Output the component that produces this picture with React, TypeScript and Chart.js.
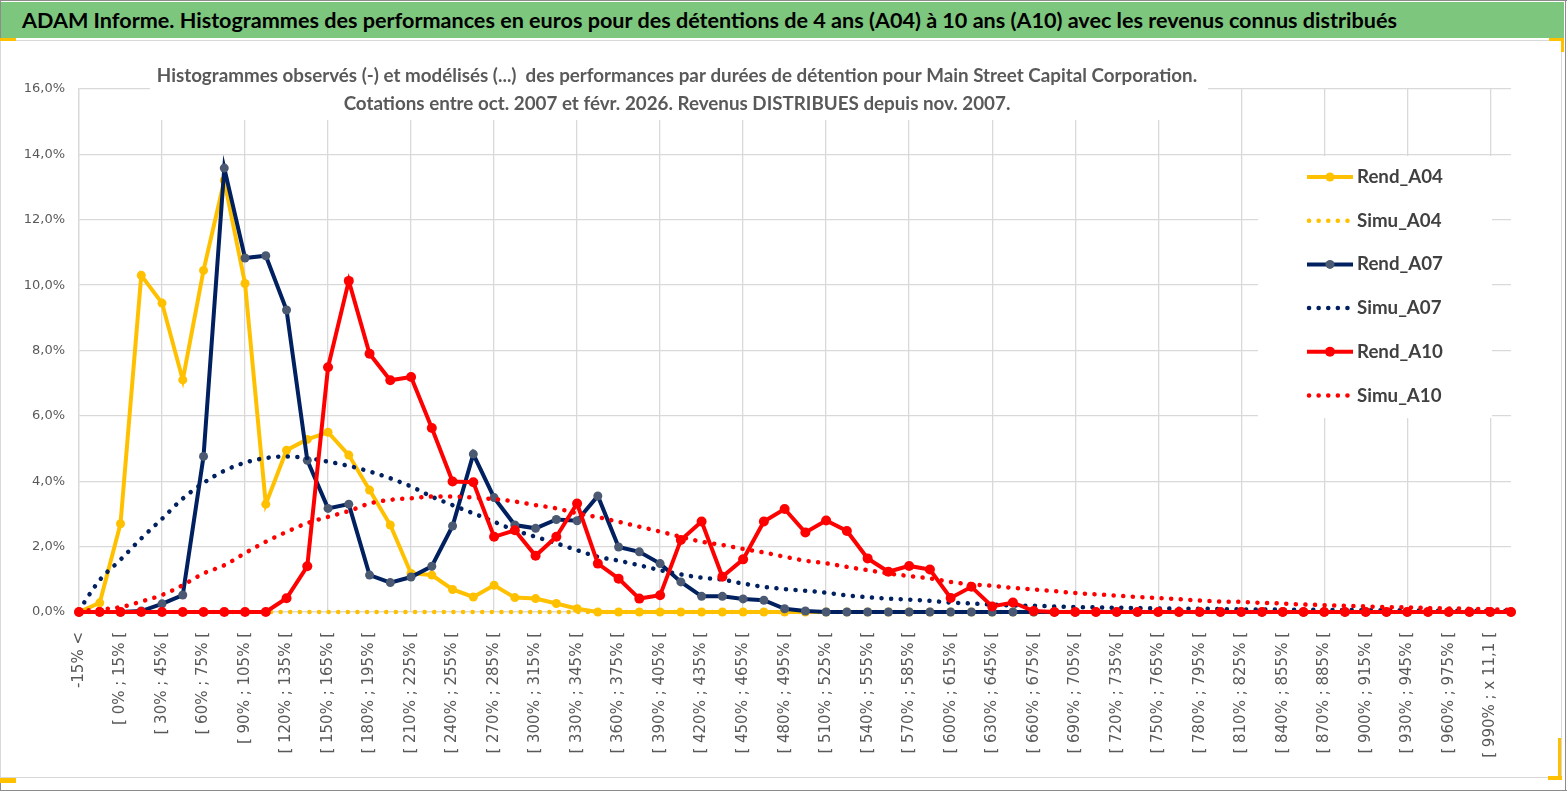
import React, { useEffect, useRef } from 'react';
import { Chart, registerables } from 'chart.js';

Chart.register(...registerables);

const HEADER = 'ADAM Informe. Histogrammes des performances en euros pour des détentions de 4 ans (A04) à 10 ans (A10) avec les revenus connus distribués';
const TITLE_LINES = [
  'Histogrammes observés (-) et modélisés (...)  des performances par durées de détention pour Main Street Capital Corporation.',
  'Cotations entre oct. 2007 et févr. 2026. Revenus DISTRIBUES depuis nov. 2007.',
];

const CATEGORIES = [
  '-15% <', '[ -15% ; 0% [', '[ 0% ; 15% [', '[ 15% ; 30% [', '[ 30% ; 45% [', '[ 45% ; 60% [',
  '[ 60% ; 75% [', '[ 75% ; 90% [', '[ 90% ; 105% [', '[ 105% ; 120% [', '[ 120% ; 135% [',
  '[ 135% ; 150% [', '[ 150% ; 165% [', '[ 165% ; 180% [', '[ 180% ; 195% [', '[ 195% ; 210% [',
  '[ 210% ; 225% [', '[ 225% ; 240% [', '[ 240% ; 255% [', '[ 255% ; 270% [', '[ 270% ; 285% [',
  '[ 285% ; 300% [', '[ 300% ; 315% [', '[ 315% ; 330% [', '[ 330% ; 345% [', '[ 345% ; 360% [',
  '[ 360% ; 375% [', '[ 375% ; 390% [', '[ 390% ; 405% [', '[ 405% ; 420% [', '[ 420% ; 435% [',
  '[ 435% ; 450% [', '[ 450% ; 465% [', '[ 465% ; 480% [', '[ 480% ; 495% [', '[ 495% ; 510% [',
  '[ 510% ; 525% [', '[ 525% ; 540% [', '[ 540% ; 555% [', '[ 555% ; 570% [', '[ 570% ; 585% [',
  '[ 585% ; 600% [', '[ 600% ; 615% [', '[ 615% ; 630% [', '[ 630% ; 645% [', '[ 645% ; 660% [',
  '[ 660% ; 675% [', '[ 675% ; 690% [', '[ 690% ; 705% [', '[ 705% ; 720% [', '[ 720% ; 735% [',
  '[ 735% ; 750% [', '[ 750% ; 765% [', '[ 765% ; 780% [', '[ 780% ; 795% [', '[ 795% ; 810% [',
  '[ 810% ; 825% [', '[ 825% ; 840% [', '[ 840% ; 855% [', '[ 855% ; 870% [', '[ 870% ; 885% [',
  '[ 885% ; 900% [', '[ 900% ; 915% [', '[ 915% ; 930% [', '[ 930% ; 945% [', '[ 945% ; 960% [',
  '[ 960% ; 975% [', '[ 975% ; 990% [', '[ 990% ; x 11,1 [', 'x 11,1 <',
];

const REND_A04 = [
  0, 0.28, 2.7, 10.3, 9.45, 7.1, 10.45, 13.2, 10.05, 3.3,
  4.95, 5.28, 5.5, 4.8, 3.73, 2.66, 1.18, 1.13, 0.69, 0.46,
  0.82, 0.44, 0.41, 0.26, 0.1, 0, 0, 0, 0, 0,
  0, 0, 0, 0, 0, 0, 0, 0, 0, 0,
  0, 0, 0, 0, 0, 0, 0, 0, 0, 0,
  0, 0, 0, 0, 0, 0, 0, 0, 0, 0,
  0, 0, 0, 0, 0, 0, 0, 0, 0, 0,
];
const SIMU_A04 = [
  0, 0, 0, 0, 0, 0, 0, 0, 0, 0,
  0, 0, 0, 0, 0, 0, 0, 0, 0, 0,
  0, 0, 0, 0, 0, 0, 0, 0, 0, 0,
  0, 0, 0, 0, 0, 0, 0, 0, 0, 0,
  0, 0, 0, 0, 0, 0, 0, 0, 0, 0,
  0, 0, 0, 0, 0, 0, 0, 0, 0, 0,
  0, 0, 0, 0, 0, 0, 0, 0, 0, 0,
];
const REND_A07 = [
  0, 0, 0, 0.03, 0.25, 0.52, 4.76, 13.58, 10.83, 10.9,
  9.24, 4.64, 3.17, 3.3, 1.13, 0.9, 1.07, 1.4, 2.63, 4.83,
  3.5, 2.66, 2.56, 2.83, 2.79, 3.55, 1.99, 1.84, 1.48, 0.92,
  0.48, 0.48, 0.4, 0.36, 0.1, 0.03, 0, 0, 0, 0,
  0, 0, 0, 0, 0, 0, 0, 0, 0, 0,
  0, 0, 0, 0, 0, 0, 0, 0, 0, 0,
  0, 0, 0, 0, 0, 0, 0, 0, 0, 0,
];
const SIMU_A07 = [
  0.05, 0.98, 1.6, 2.25, 2.85, 3.47, 3.95, 4.32, 4.57, 4.71,
  4.76, 4.71, 4.6, 4.47, 4.3, 4.09, 3.84, 3.53, 3.27, 3.02,
  2.76, 2.5, 2.3, 2.1, 1.89, 1.69, 1.57, 1.43, 1.28, 1.15,
  1.05, 0.99, 0.87, 0.77, 0.7, 0.65, 0.59, 0.51, 0.45, 0.41,
  0.38, 0.34, 0.29, 0.26, 0.23, 0.2, 0.19, 0.17, 0.15, 0.14,
  0.13, 0.12, 0.11, 0.1, 0.1, 0.09, 0.08, 0.08, 0.07, 0.07,
  0.06, 0.06, 0.05, 0.05, 0.05, 0.04, 0.04, 0.04, 0.03, 0.03,
];
const REND_A10 = [
  0, 0, 0, 0, 0, 0, 0, 0, 0, 0,
  0.42, 1.4, 7.49, 10.13, 7.9, 7.09, 7.19, 5.63, 3.99, 3.97,
  2.3, 2.5, 1.72, 2.3, 3.32, 1.48, 1.02, 0.41, 0.51, 2.2,
  2.77, 1.08, 1.61, 2.77, 3.15, 2.43, 2.8, 2.48, 1.64, 1.23,
  1.41, 1.3, 0.43, 0.77, 0.17, 0.29, 0.03, 0, 0, 0,
  0, 0, 0, 0, 0, 0, 0, 0, 0, 0,
  0, 0, 0, 0, 0, 0, 0, 0, 0, 0,
];
const SIMU_A10 = [
  0.03, 0.08, 0.15, 0.32, 0.52, 0.82, 1.18, 1.43, 1.8, 2.15,
  2.45, 2.72, 2.91, 3.09, 3.32, 3.43, 3.48, 3.53, 3.53, 3.5,
  3.45, 3.38, 3.27, 3.17, 3.02, 2.9, 2.76, 2.61, 2.46, 2.3,
  2.15, 2.05, 1.93, 1.82, 1.69, 1.57, 1.49, 1.38, 1.28, 1.18,
  1.1, 1.03, 0.92, 0.85, 0.8, 0.74, 0.69, 0.64, 0.58, 0.54,
  0.5, 0.46, 0.43, 0.39, 0.35, 0.32, 0.31, 0.28, 0.26, 0.23,
  0.21, 0.19, 0.17, 0.15, 0.14, 0.12, 0.11, 0.1, 0.08, 0.07,
];

const Y_MIN = 0;
const Y_MAX = 16;
const Y_STEP = 2;

const YELLOW = '#FFC000';
const NAVY = '#002060';
const NAVY_MARK = '#4B5A72';
const RED = '#FF0000';
const GRID = '#d9d9d9';
const TEXT = '#595959';

const DOT_DASH = [0.1, 9.5];

function solid(label: string, data: number[], color: string, mark: string, r: number, order: number) {
  return {
    label, data, order,
    borderColor: color, backgroundColor: color,
    borderWidth: 4, pointRadius: r, pointHoverRadius: r,
    pointBackgroundColor: mark, pointBorderColor: mark, pointBorderWidth: 0,
    tension: 0, clip: false as const, fill: false,
    isDotted: false,
  };
}
function dotted(label: string, data: number[], color: string, order: number) {
  return {
    label, data, order,
    borderColor: color, backgroundColor: color,
    borderWidth: 4.5, borderDash: DOT_DASH, borderCapStyle: 'round' as const,
    pointRadius: 0, pointHoverRadius: 0,
    cubicInterpolationMode: 'monotone' as const, clip: false as const, fill: false,
    isDotted: true,
  };
}

const innerDecor = {
  id: 'innerDecor',
  beforeDatasetsDraw(chart: any) {
    const { ctx, chartArea: a } = chart;
    ctx.save();
    // title box (hides grid)
    ctx.fillStyle = '#ffffff';
    ctx.fillRect(a.left + 71, a.top - 44, 1058, 75);
    ctx.fillStyle = TEXT;
    ctx.font = 'bold 18.8px Lato';
    ctx.textAlign = 'center';
    ctx.textBaseline = 'middle';
    const cx = a.left + 598;
    ctx.fillText(TITLE_LINES[0], cx, a.top - 13);
    ctx.fillText(TITLE_LINES[1], cx, a.top + 15);

    // legend box
    ctx.fillStyle = '#ffffff';
    ctx.fillRect(a.right - 253, a.top + 67, 234, 262);
    const ds = chart.data.datasets;
    const x0 = a.right - 204;
    const len = 46;
    ds.forEach((d: any, k: number) => {
      const y = a.top + 88 + k * 43.7;
      ctx.save();
      ctx.strokeStyle = d.borderColor;
      if (d.isDotted) {
        ctx.lineWidth = 4.5;
        ctx.lineCap = 'round';
        ctx.setLineDash(DOT_DASH);
        ctx.beginPath();
        ctx.moveTo(x0 + 2, y);
        ctx.lineTo(x0 + len - 2, y);
        ctx.stroke();
      } else {
        ctx.lineWidth = 4;
        ctx.lineCap = 'butt';
        ctx.beginPath();
        ctx.moveTo(x0, y);
        ctx.lineTo(x0 + len, y);
        ctx.stroke();
        ctx.fillStyle = d.pointBackgroundColor;
        ctx.beginPath();
        ctx.arc(x0 + len / 2, y, d.pointRadius, 0, Math.PI * 2);
        ctx.fill();
      }
      ctx.restore();
      ctx.fillStyle = '#404040';
      ctx.font = 'bold 18.7px Lato';
      ctx.textAlign = 'left';
      ctx.textBaseline = 'middle';
      ctx.fillText(d.label, x0 + len + 4, y);
    });
    ctx.restore();
  },
};

export default function App() {
  const canvasRef = useRef<HTMLCanvasElement | null>(null);

  useEffect(() => {
    document.body.style.margin = '0';
    const canvas = canvasRef.current;
    if (!canvas) return;
    const chart = new Chart(canvas, {
      type: 'line',
      data: {
        labels: CATEGORIES,
        datasets: [
          solid('Rend_A04', REND_A04, YELLOW, YELLOW, 4.5, 6),
          dotted('Simu_A04', SIMU_A04, YELLOW, 5),
          solid('Rend_A07', REND_A07, NAVY, NAVY_MARK, 4.5, 4),
          dotted('Simu_A07', SIMU_A07, NAVY, 3),
          solid('Rend_A10', REND_A10, RED, RED, 5, 2),
          dotted('Simu_A10', SIMU_A10, RED, 1),
        ] as any,
      },
      options: {
        animation: false,
        responsive: true,
        maintainAspectRatio: false,
        layout: { padding: { left: 10, right: 49, top: 47, bottom: 0 } },
        plugins: {
          legend: { display: false },
          title: { display: false },
          tooltip: { enabled: false },
        },
        scales: {
          x: {
            type: 'category',
            offset: false,
            grid: {
              color: (c: any) => (c.index % 4 === 0 ? GRID : 'rgba(0,0,0,0)'),
              lineWidth: 1.3,
              drawTicks: false,
            },
            border: { color: GRID, width: 1.3 },
            ticks: {
              autoSkip: false,
              maxRotation: 90,
              minRotation: 90,
              padding: 20,
              color: TEXT,
              font: { family: 'DejaVu Sans', size: 15 },
              callback: function (this: any, value: any, index: number) {
                return index % 2 === 0 ? this.getLabelForValue(value) : '';
              },
            },
            afterFit: (s: any) => { s.height = 164; },
          },
          y: {
            min: Y_MIN,
            max: Y_MAX,
            grid: { color: GRID, lineWidth: 1.3, drawTicks: false },
            border: { color: GRID, width: 1.3 },
            ticks: {
              stepSize: Y_STEP,
              padding: 14,
              color: TEXT,
              font: { family: 'DejaVu Sans', size: 13 },
              callback: (v: any) => Number(v).toFixed(1).replace('.', ',') + '%',
            },
            afterFit: (s: any) => { s.width = 69; },
          },
        },
      },
      plugins: [innerDecor],
    });
    return () => chart.destroy();
  }, []);

  return (
    <div style={{ position: 'absolute', left: 0, top: 0, width: 1567, height: 791, background: '#fff', overflow: 'hidden' }}>
      <div style={{ position: 'absolute', left: 0, top: 0, width: 1567, height: 1, background: '#8c8c8c' }} />
      <div style={{ position: 'absolute', left: 0, top: 790, width: 1567, height: 1, background: '#8c8c8c' }} />
      <div style={{ position: 'absolute', left: 0, top: 0, width: 1, height: 791, background: '#8c8c8c' }} />
      <div style={{ position: 'absolute', left: 1565, top: 0, width: 1, height: 791, background: '#8c8c8c' }} />
      <div
        style={{
          position: 'absolute', left: 1, top: 2, width: 1563, height: 36, background: '#7dc67d',
          fontFamily: 'Lato', fontWeight: 'bold', fontSize: 21.6, color: '#000', lineHeight: '36px',
          paddingLeft: 21, boxSizing: 'border-box', whiteSpace: 'nowrap',
        }}
      >
        {HEADER}
      </div>
      <div style={{ position: 'absolute', left: 0, top: 40, width: 1562, height: 738, border: '1px solid #d9d9d9', boxSizing: 'border-box' }} />
      <div style={{ position: 'absolute', left: 0, top: 38, width: 16, height: 3, background: '#FFC000' }} />
      <div style={{ position: 'absolute', left: 1549, top: 38, width: 14, height: 3, background: '#FFC000' }} />
      <div style={{ position: 'absolute', left: 1561, top: 38, width: 3, height: 14, background: '#FFC000' }} />
      <div style={{ position: 'absolute', left: 0, top: 778, width: 16, height: 5, background: '#FFC000' }} />
      <div style={{ position: 'absolute', left: 1558, top: 738, width: 3, height: 42, background: '#FFC000' }} />
      <div style={{ position: 'absolute', left: 1548, top: 776, width: 14, height: 4, background: '#FFC000' }} />
      <div style={{ position: 'absolute', left: 0, top: 42, width: 1560, height: 734 }}>
        <canvas ref={canvasRef} />
      </div>
    </div>
  );
}
